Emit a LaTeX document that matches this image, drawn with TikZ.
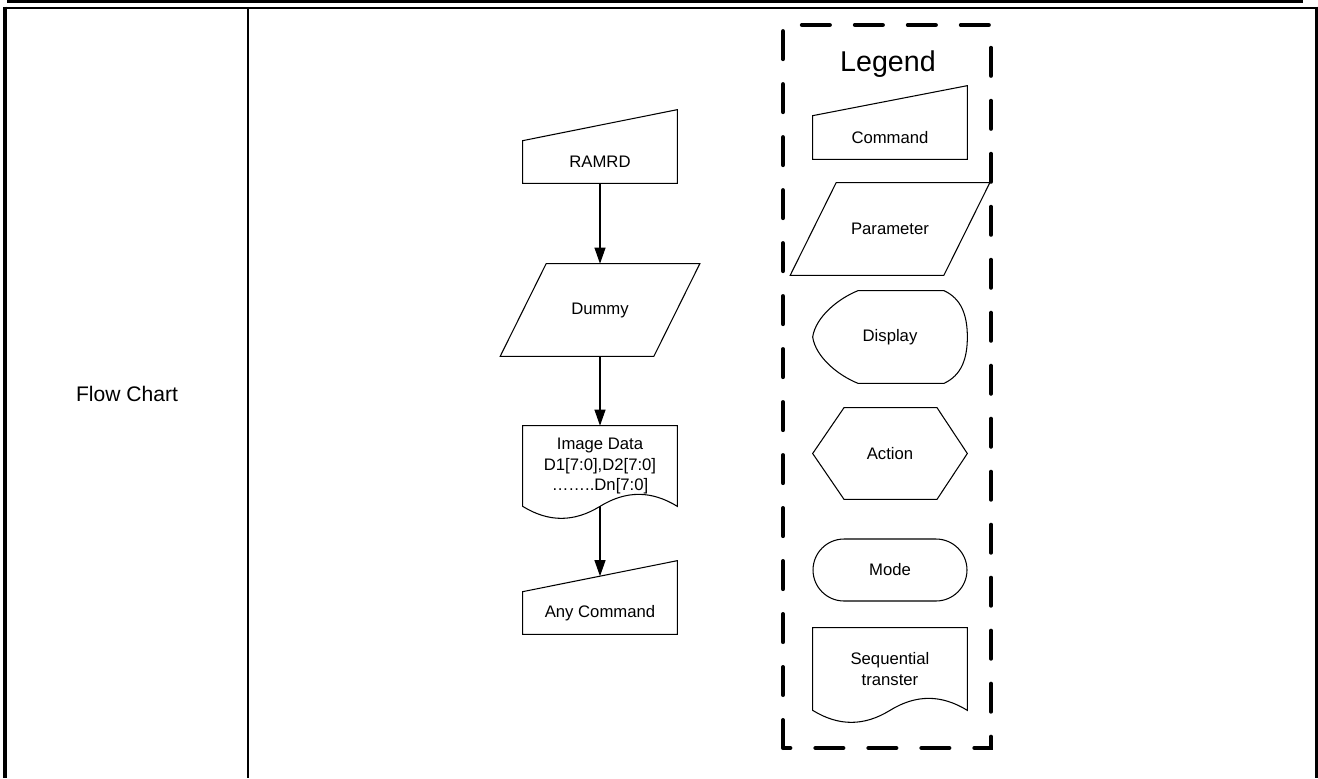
\documentclass[tikz,border=0pt]{standalone}
\usepackage{fontspec}
\setmainfont{Liberation Sans}
\usetikzlibrary{arrows.meta,calc}
\tikzset{
  flowarr/.style={-{Triangle[length=3.2mm,width=2.2mm]},line width=0.6pt},
  shapeline/.style={line width=0.6pt},
  blockbox/.style={minimum width=3.08cm,inner sep=0pt,align=center,font=\fontsize{9.5}{11.5}\selectfont},
  legendframe/.style={line width=2.3pt,dash pattern=on 0.56cm off 0.5cm,line cap=round},
}

\begin{document}
\begin{tikzpicture}[x=0.02cm,y=-0.02cm,>=Triangle]
  \useasboundingbox (0,0) rectangle (1318,778);
  % table frame
  \draw[line width=0.066cm] (7,1.65) -- (1303,1.65);
  \draw[line width=0.04cm] (3,7.5) -- (1318,7.5);
  \draw[line width=0.08cm] (4.7,6.5) -- (4.7,778);
  \draw[line width=0.06cm] (1316,6.5) -- (1316,778);
  \draw[line width=0.05cm] (248,7.5) -- (248,778);
  \node[font=\fontsize{12}{14}\selectfont] (title) at (127,394) {Flow Chart};

  % flow
  \node[blockbox,minimum height=0.84cm] (ramrd) at (600,162) {RAMRD};
  \draw[shapeline] (ramrd.south west) -- (ramrd.north west) -- ($(ramrd.north east)+(0,-31)$) -- (ramrd.south east) -- cycle;

  \node[blockbox,minimum width=3.06cm,minimum height=1.84cm] (dummy) at (600,310) {Dummy};
  \draw[shapeline] ($(dummy.north west)+(23,0)$) -- ($(dummy.north east)+(23,0)$) -- ($(dummy.south east)+(-23,0)$) -- ($(dummy.south west)+(-23,0)$) -- cycle;

  \node[blockbox,minimum height=1.6cm] (imgdata) at (600,466) {Image Data\\D1[7:0],D2[7:0]\\……..Dn[7:0]};
  \draw[shapeline] (imgdata.south west) -- (imgdata.north west) -- (imgdata.north east) -- (imgdata.south east)
    .. controls ($(imgdata.south east)+(-26,-16)$) and ($(imgdata.south)+(26,-16)$) .. (imgdata.south)
    .. controls ($(imgdata.south)+(-26,16)$) and ($(imgdata.south west)+(26,16)$) .. (imgdata.south west) -- cycle;

  \node[blockbox,minimum height=0.84cm] (anycmd) at (600,613) {Any Command};
  \draw[shapeline] (anycmd.south west) -- (anycmd.north west) -- ($(anycmd.north east)+(0,-31)$) -- (anycmd.south east) -- cycle;
  \coordinate (anytop) at ($(anycmd.north)+(0,-15.5)$);

  \draw[flowarr] (ramrd.south) -- (dummy.north);
  \draw[flowarr] (dummy.south) -- (imgdata.north);
  \draw[flowarr] (imgdata.south) -- (anytop);

  % legend
  \draw[legendframe] (783,748) -- (783,25) -- (991,25) -- (991,748) -- cycle;
  \node[font=\fontsize{16.3}{19}\selectfont] (legendtitle) at (888,64) {Legend};

  \node[blockbox,minimum height=0.86cm] (lcmd) at (890,137.5) {Command};
  \draw[shapeline] (lcmd.south west) -- (lcmd.north west) -- ($(lcmd.north east)+(0,-30)$) -- (lcmd.south east) -- cycle;

  \node[blockbox,minimum width=3.06cm,minimum height=1.84cm] (lparam) at (890,229) {Parameter};
  \draw[shapeline] ($(lparam.north west)+(23,0)$) -- ($(lparam.north east)+(23,0)$) -- ($(lparam.south east)+(-23,0)$) -- ($(lparam.south west)+(-23,0)$) -- cycle;

  \node[blockbox,minimum height=1.84cm] (ldisp) at (890,337) {Display};
  \draw[shapeline] ($(ldisp.north)+(-32,0)$) -- ($(ldisp.north)+(54,0)$)
    .. controls ($(ldisp.north east)+(-6,8)$) and ($(ldisp.east)+(0,-22)$) .. (ldisp.east)
    .. controls ($(ldisp.east)+(0,22)$) and ($(ldisp.south east)+(-6,-8)$) .. ($(ldisp.south)+(54,0)$)
    -- ($(ldisp.south)+(-32,0)$)
    .. controls ($(ldisp.south)+(-52,-8)$) and ($(ldisp.west)+(3,20)$) .. (ldisp.west)
    .. controls ($(ldisp.west)+(3,-20)$) and ($(ldisp.north)+(-52,8)$) .. ($(ldisp.north)+(-32,0)$) -- cycle;

  \node[blockbox,minimum height=1.82cm] (lact) at (890,453.5) {Action};
  \draw[shapeline] ($(lact.north)+(-46,0)$) -- ($(lact.north)+(47,0)$) -- (lact.east) -- ($(lact.south)+(47,0)$) -- ($(lact.south)+(-46,0)$) -- (lact.west) -- cycle;

  \node[blockbox,draw,shapeline,minimum height=1.24cm,rounded corners=0.62cm] (lmode) at (890,570) {Mode};

  \node[blockbox,minimum height=1.64cm] (lseq) at (890,669) {Sequential\\transter};
  \draw[shapeline] (lseq.south west) -- (lseq.north west) -- (lseq.north east) -- (lseq.south east)
    .. controls ($(lseq.south east)+(-26,-16)$) and ($(lseq.south)+(26,-16)$) .. (lseq.south)
    .. controls ($(lseq.south)+(-26,16)$) and ($(lseq.south west)+(26,16)$) .. (lseq.south west) -- cycle;
\end{tikzpicture}
\end{document}
